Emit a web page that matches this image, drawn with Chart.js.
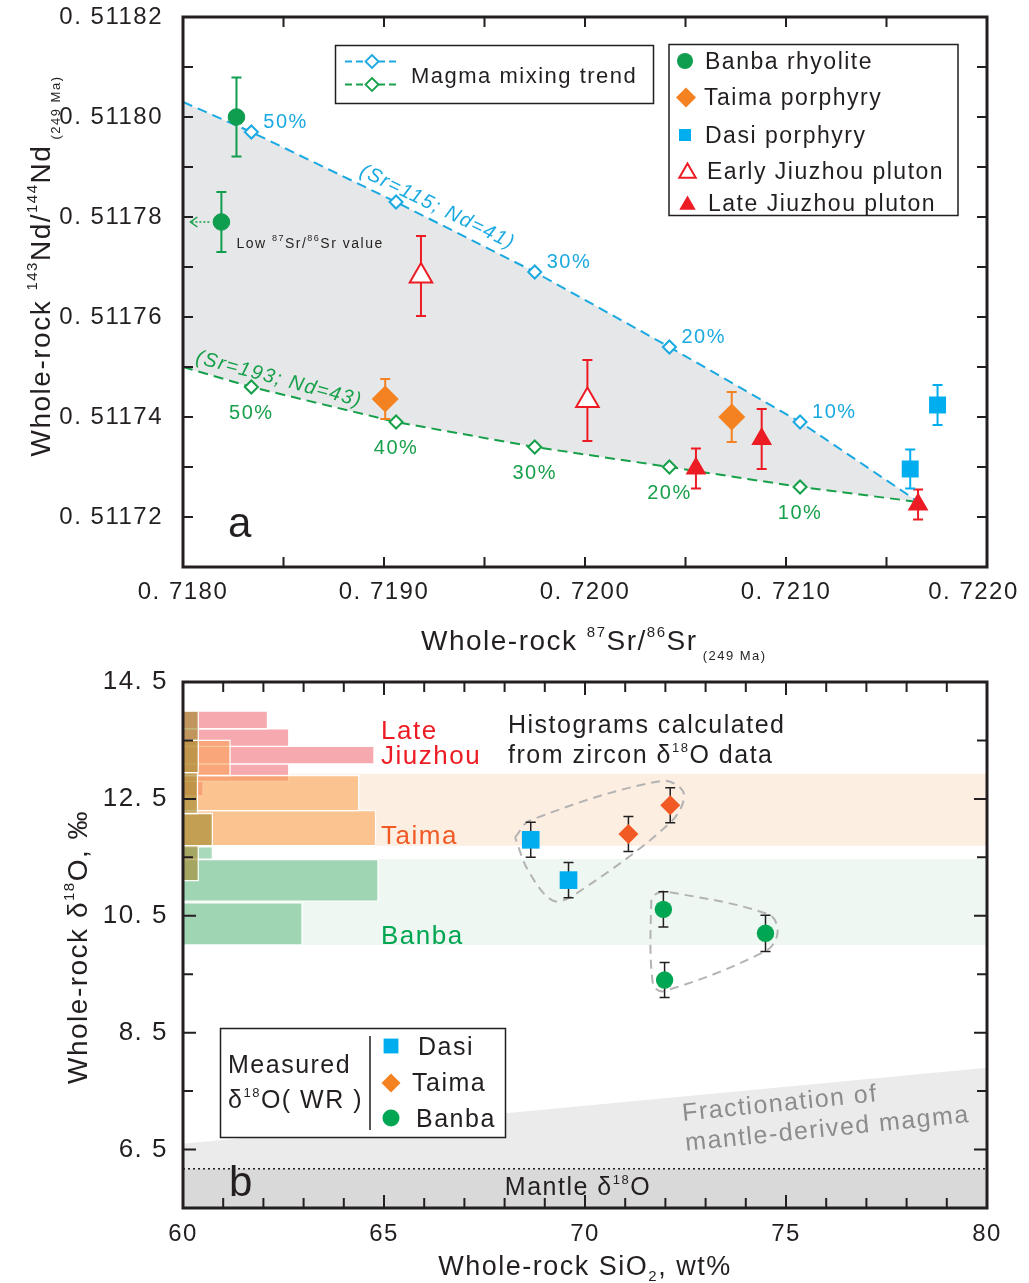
<!DOCTYPE html>
<html>
<head>
<meta charset="utf-8">
<script src="https://cdn.jsdelivr.net/npm/chart.js@4.4.1/dist/chart.umd.min.js"></script>
<style>
  html, body { margin: 0; padding: 0; background: #fff; }
  #wrap { position: relative; width: 1029px; height: 1283px; }
  #c1 { position: absolute; left: 0; top: 0; }
  #c2 { position: absolute; left: 0; top: 660px; }
</style>
</head>
<body>
<div id="wrap">
  <canvas id="c1" width="1029" height="675"></canvas>
  <canvas id="c2" width="1029" height="623"></canvas>
</div>
<script>
const FONT = '"Liberation Sans", Arial, Helvetica, sans-serif';
const INK = '#231f20';

// ---------- panel a : Sr-Nd ----------
// mixing curves, same Sr positions for both
const mixSr = [0.71800, 0.71834, 0.71906, 0.71975, 0.72042, 0.72107, 0.72166];
const mixNd115 = [0.511803, 0.511797, 0.511783, 0.511769, 0.511754, 0.511739, 0.511723];
const mixNd193 = [0.511750, 0.511746, 0.511739, 0.511734, 0.511730, 0.511726, 0.511723];
const mixPct115 = ['', '50%', '', '30%', '20%', '10%', ''];
const mixPct193 = ['', '50%', '40%', '30%', '20%', '10%', ''];

const banbaSr = [0.718266, 0.718191];
const banbaNd = [0.511800, 0.511779];
const banbaNdErr = [0.0000079, 0.0000060];

const taimaSr = [0.719006, 0.720730];
const taimaNd = [0.5117436, 0.5117400];
const taimaNdErr = [0.0000040, 0.0000050];

const dasiSr = [0.721618, 0.721754];
const dasiNd = [0.5117296, 0.5117424];
const dasiNdErr = [0.0000039, 0.0000040];

const earlySr = [0.719184, 0.720012];
const earlyNd = [0.5117682, 0.5117433];
const earlyNdErr = [0.0000080, 0.0000081];

const lateSr = [0.720552, 0.720879, 0.721657];
const lateNd = [0.5117297, 0.5117356, 0.5117225];
const lateNdErr = [0.0000040, 0.0000060, 0.0000030];

// ---------- panel b : SiO2 - d18O ----------
const dasiSi = [68.65, 69.59];
const dasiO = [11.80, 11.11];
const dasiOErr = [0.30, 0.30];
const taimaSi = [71.08, 72.12];
const taimaO = [11.90, 12.39];
const taimaOErr = [0.30, 0.30];
const banbaSi = [71.95, 74.49, 71.98];
const banbaO = [10.61, 10.20, 9.40];
const banbaOErr = [0.30, 0.31, 0.30];

// zircon d18O histograms: bin top, bin bottom, bar end (in SiO2 axis units)
const histLateTop = [14.0, 13.7, 13.4, 13.1, 12.8];
const histLateBot = [13.7, 13.4, 13.1, 12.8, 12.55];
const histLateLen = [62.10, 62.63, 64.75, 62.63, 60.50];
const histTaimaTop = [13.5, 12.9, 12.3];
const histTaimaBot = [12.9, 12.3, 11.7];
const histTaimaLen = [61.17, 64.37, 64.79];
const histBanbaTop = [11.68, 11.46, 10.72];
const histBanbaBot = [11.47, 10.75, 10.00];
const histBanbaLen = [60.73, 64.85, 62.96];
const histDasiTop = [14.0, 13.5, 12.95, 12.25, 11.7];
const histDasiBot = [13.5, 12.95, 12.25, 11.7, 11.1];
const histDasiLen = [60.38, 60.38, 60.36, 60.73, 60.38];

const taimaBandO = [11.70, 12.93];
const banbaBandO = [10.00, 11.47];
const mantleTopO = 6.17;
const fracSi = [60, 80];
const fracTopO = [6.60, 7.90];

const loopASi = [68.26, 68.63, 71.92, 72.46, 72.13, 69.76, 69.20, 68.59, 68.26];
const loopAO = [11.84, 12.13, 12.81, 12.59, 12.10, 10.87, 10.76, 11.27, 11.84];
const loopBSi = [71.75, 71.96, 74.58, 74.79, 74.50, 71.96, 71.69, 71.65, 71.75];
const loopBO = [10.87, 10.92, 10.52, 10.21, 9.90, 9.21, 9.33, 10.76, 10.87];

// ---------- helpers ----------
const pts = (xs, ys) => xs.map((x, i) => ({ x: x, y: ys[i] }));

function rich(ctx, parts, x, y, align, color) {
  // parts: [text, size, dy, italic]
  const fnt = p => (p[3] ? 'italic ' : '') + p[1] + 'px ' + FONT;
  let w = 0;
  const ws = parts.map(p => { ctx.font = fnt(p); const m = ctx.measureText(p[0]).width; w += m; return m; });
  let cx = align === 'center' ? x - w / 2 : (align === 'right' ? x - w : x);
  ctx.textAlign = 'left';
  ctx.textBaseline = 'alphabetic';
  ctx.fillStyle = color;
  parts.forEach((p, i) => { ctx.font = fnt(p); ctx.fillText(p[0], cx, y + (p[2] || 0)); cx += ws[i]; });
}

function marker(ctx, style, x, y, r, fill, stroke, lw) {
  ctx.beginPath();
  if (style === 'circle') ctx.arc(x, y, r, 0, Math.PI * 2);
  else if (style === 'rect') { const s = r * Math.SQRT1_2; ctx.rect(x - s, y - s, 2 * s, 2 * s); }
  else if (style === 'rectRot') { ctx.moveTo(x, y - r); ctx.lineTo(x + r, y); ctx.lineTo(x, y + r); ctx.lineTo(x - r, y); ctx.closePath(); }
  else if (style === 'triangle') {
    const c = Math.cos(Math.PI / 6) * r;
    ctx.moveTo(x, y - r); ctx.lineTo(x + c, y + r / 2); ctx.lineTo(x - c, y + r / 2); ctx.closePath();
  }
  if (fill) { ctx.fillStyle = fill; ctx.fill(); }
  if (stroke) { ctx.strokeStyle = stroke; ctx.lineWidth = lw; ctx.stroke(); }
}

// keep the plot box where the figure has it: no label overflow padding
function noPad(s) { s.paddingTop = 0; s.paddingBottom = 0; s.paddingLeft = 0; s.paddingRight = 0; }

const spacing = {
  id: 'spacing',
  beforeDraw(chart) { chart.ctx.letterSpacing = '1.5px'; }
};

const errorBars = {
  id: 'errorBars',
  beforeDatasetDraw(chart, args) {
    const ds = chart.data.datasets[args.index];
    if (!ds.errY) return;
    const ctx = chart.ctx, x = chart.scales.x, y = chart.scales.y;
    ctx.save();
    ctx.strokeStyle = ds.errColor;
    ctx.lineWidth = ds.errWidth;
    ds.data.forEach((p, i) => {
      const px = x.getPixelForValue(p.x);
      const y1 = y.getPixelForValue(p.y + ds.errY[i]);
      const y2 = y.getPixelForValue(p.y - ds.errY[i]);
      ctx.beginPath();
      ctx.moveTo(px, y1); ctx.lineTo(px, y2);
      ctx.moveTo(px - 5, y1); ctx.lineTo(px + 5, y1);
      ctx.moveTo(px - 5, y2); ctx.lineTo(px + 5, y2);
      ctx.stroke();
    });
    ctx.restore();
  }
};

function framePlugin(isMajorX, isMajorY, majorLen, minorLen) {
  return {
    id: 'frame',
    afterDraw(chart) {
      const ctx = chart.ctx, a = chart.chartArea, x = chart.scales.x, y = chart.scales.y;
      ctx.save();
      ctx.strokeStyle = INK;
      ctx.lineWidth = 2;
      ctx.beginPath();
      x.ticks.forEach(t => {
        const px = x.getPixelForValue(t.value), L = isMajorX(t.value) ? majorLen : minorLen;
        ctx.moveTo(px, a.bottom); ctx.lineTo(px, a.bottom - L);
        ctx.moveTo(px, a.top); ctx.lineTo(px, a.top + L);
      });
      y.ticks.forEach(t => {
        const py = y.getPixelForValue(t.value), L = isMajorY(t.value) ? majorLen : minorLen;
        ctx.moveTo(a.left, py); ctx.lineTo(a.left + L, py);
        ctx.moveTo(a.right, py); ctx.lineTo(a.right - L, py);
      });
      ctx.stroke();
      ctx.lineWidth = 3;
      ctx.strokeRect(a.left, a.top, a.right - a.left, a.bottom - a.top);
      ctx.restore();
    }
  };
}

const tickFont = { family: FONT, size: 24 };

// ---------- panel a ----------
const zone = pts(mixSr, mixNd115).concat(pts(mixSr, mixNd193).reverse());
const mixRadius = mixSr.map((v, i) => (i === 0 || i === mixSr.length - 1) ? 0 : 6.5);

const panelA = {
  id: 'panelA',
  afterDatasetsDraw(chart) {
    const ctx = chart.ctx, x = chart.scales.x, y = chart.scales.y, a = chart.chartArea;
    ctx.save();
    // percentage labels
    mixPct115.forEach((t, i) => {
      if (!t) return;
      rich(ctx, [[t, 20]], x.getPixelForValue(mixSr[i]) + 12, y.getPixelForValue(mixNd115[i]) - 4, 'left', '#1ba9e1');
    });
    mixPct193.forEach((t, i) => {
      if (!t) return;
      rich(ctx, [[t, 20]], x.getPixelForValue(mixSr[i]), y.getPixelForValue(mixNd193[i]) + 32, 'center', '#17a04a');
    });
    // curve annotations
    ctx.save();
    ctx.translate(x.getPixelForValue(mixSr[2]) + 42, y.getPixelForValue(mixNd115[2]) + 4);
    ctx.rotate(26 * Math.PI / 180);
    rich(ctx, [['(Sr=115; Nd=41)', 20, 7, true]], 0, 0, 'center', '#1ba9e1');
    ctx.restore();
    ctx.save();
    ctx.translate(x.getPixelForValue(mixSr[1]) + 28, y.getPixelForValue(mixNd193[1]) - 9);
    ctx.rotate(15 * Math.PI / 180);
    rich(ctx, [['(Sr=193; Nd=43)', 20, 7, true]], 0, 0, 'center', '#17a04a');
    ctx.restore();
    // low Sr note and arrow
    const bx = x.getPixelForValue(banbaSr[1]), by = y.getPixelForValue(banbaNd[1]);
    rich(ctx, [['Low ', 14], ['87', 9, -7], ['Sr/', 14], ['86', 9, -7], ['Sr value', 14]], bx + 15, by + 26, 'left', INK);
    ctx.strokeStyle = '#17a04a';
    ctx.lineWidth = 1.5;
    ctx.setLineDash([2, 2]);
    ctx.beginPath(); ctx.moveTo(bx - 12, by); ctx.lineTo(bx - 31, by); ctx.stroke();
    ctx.setLineDash([]);
    ctx.beginPath(); ctx.moveTo(bx - 24, by - 5); ctx.lineTo(bx - 31, by); ctx.lineTo(bx - 24, by + 5); ctx.stroke();
    // panel letter
    rich(ctx, [['a', 42]], a.left + 45, a.bottom - 30, 'left', INK);
    // legend: mixing trend
    ctx.strokeStyle = INK; ctx.lineWidth = 1.5;
    ctx.strokeRect(335.5, 45.5, 318, 58);
    [['#1ba9e1', 61.5], ['#17a04a', 84.5]].forEach(r => {
      ctx.strokeStyle = r[0]; ctx.lineWidth = 1.8; ctx.setLineDash([7, 4]);
      ctx.beginPath(); ctx.moveTo(345, r[1]); ctx.lineTo(398, r[1]); ctx.stroke();
      ctx.setLineDash([]);
      marker(ctx, 'rectRot', 372, r[1], 6.5, '#fff', r[0], 1.8);
    });
    rich(ctx, [['Magma mixing trend', 22]], 411, 83, 'left', INK);
    // legend: samples
    ctx.strokeStyle = INK; ctx.lineWidth = 1.5;
    ctx.strokeRect(669, 44.5, 289, 171);
    marker(ctx, 'circle', 685, 61, 8, '#0f9d4f');
    marker(ctx, 'rectRot', 686, 97.5, 10, '#f58220');
    marker(ctx, 'rect', 685, 135, 8.5, '#00aeef');
    marker(ctx, 'triangle', 687.5, 173, 9.5, '#fff', '#ed1c24', 2);
    marker(ctx, 'triangle', 687.5, 205, 9.5, '#ed1c24');
    rich(ctx, [['Banba rhyolite', 23]], 705, 69, 'left', INK);
    rich(ctx, [['Taima porphyry', 23]], 704, 105, 'left', INK);
    rich(ctx, [['Dasi porphyry', 23]], 705, 143, 'left', INK);
    rich(ctx, [['Early Jiuzhou pluton', 23]], 707, 179, 'left', INK);
    rich(ctx, [['Late Jiuzhou pluton', 23]], 708, 211, 'left', INK);
    ctx.restore();
  },
  afterDraw(chart) {
    const ctx = chart.ctx;
    ctx.save();
    rich(ctx, [['Whole-rock ', 28], ['87', 15, -13], ['Sr/', 28], ['86', 15, -13], ['Sr', 28], [' (249 Ma)', 13, 10]], 421, 650, 'left', INK);
    ctx.translate(50, 266);
    ctx.rotate(-Math.PI / 2);
    rich(ctx, [['Whole-rock ', 28], ['143', 15, -13], ['Nd/', 28], ['144', 15, -13], ['Nd', 28], [' (249 Ma)', 13, 10]], 0, 0, 'center', INK);
    ctx.restore();
  }
};

new Chart(document.getElementById('c1'), {
  type: 'scatter',
  data: {
    datasets: [
      { data: zone, showLine: true, fill: 'shape', backgroundColor: '#e6e7e8', borderWidth: 0, pointRadius: 0, order: 9 },
      { data: pts(mixSr, mixNd115), showLine: true, borderColor: '#1ba9e1', borderWidth: 2, borderDash: [10, 6],
        pointStyle: 'rectRot', pointRadius: mixRadius, pointBackgroundColor: '#fff', pointBorderColor: '#1ba9e1', pointBorderWidth: 2, order: 5 },
      { data: pts(mixSr, mixNd193), showLine: true, borderColor: '#17a04a', borderWidth: 2, borderDash: [10, 6],
        pointStyle: 'rectRot', pointRadius: mixRadius, pointBackgroundColor: '#fff', pointBorderColor: '#17a04a', pointBorderWidth: 2, order: 5 },
      { data: pts(banbaSr, banbaNd), errY: banbaNdErr, errColor: '#0f9d4f', errWidth: 2,
        pointStyle: 'circle', pointRadius: 8.3, backgroundColor: '#0f9d4f', borderColor: '#0f9d4f', order: 1 },
      { data: pts(taimaSr, taimaNd), errY: taimaNdErr, errColor: '#f58220', errWidth: 2,
        pointStyle: 'rectRot', pointRadius: 13.5, backgroundColor: '#f58220', borderColor: '#f58220', borderWidth: 0, order: 1 },
      { data: pts(dasiSr, dasiNd), errY: dasiNdErr, errColor: '#00aeef', errWidth: 2,
        pointStyle: 'rect', pointRadius: 12, backgroundColor: '#00aeef', borderColor: '#00aeef', borderWidth: 0, order: 1 },
      { data: pts(earlySr, earlyNd), errY: earlyNdErr, errColor: '#ed1c24', errWidth: 2,
        pointStyle: 'triangle', pointRadius: 13, backgroundColor: '#fff', borderColor: '#ed1c24', borderWidth: 2, order: 1 },
      { data: pts(lateSr, lateNd), errY: lateNdErr, errColor: '#ed1c24', errWidth: 2,
        pointStyle: 'triangle', pointRadius: 12, backgroundColor: '#ed1c24', borderColor: '#ed1c24', borderWidth: 0, order: 1 }
    ]
  },
  options: {
    responsive: false,
    animation: false,
    events: [],
    layout: { padding: { top: 17, right: 42, left: 0, bottom: 0 } },
    plugins: { legend: { display: false }, tooltip: { enabled: false } },
    scales: {
      x: {
        type: 'linear', min: 0.7180, max: 0.7220,
        grid: { display: false, drawTicks: false }, border: { display: false },
        ticks: {
          stepSize: 0.0005, autoSkip: false, maxRotation: 0, padding: 11, color: INK, font: tickFont,
          // last label sits inside the canvas, as in the figure
          callback: v => {
            const n = Math.round(v * 1e4);
            if (n % 10 !== 0) return '';
            return n === 7220 ? '0. ' + n + '\u2002\u2002' : '0. ' + n;
          }
        },
        afterFit: s => { noPad(s); s.height = 108; }
      },
      y: {
        type: 'linear', min: 0.51171, max: 0.51182,
        grid: { display: false, drawTicks: false }, border: { display: false },
        ticks: {
          stepSize: 0.00001, autoSkip: false, padding: 20, color: INK, font: tickFont,
          callback: v => { const n = Math.round(v * 1e5); return n % 2 === 0 ? '0. ' + n : ''; }
        },
        afterFit: s => { noPad(s); s.width = 183; }
      }
    }
  },
  plugins: [spacing, errorBars, panelA, framePlugin(() => false, () => false, 10, 10)]
});

// ---------- panel b ----------
function histSets(tops, bots, lens, color, order) {
  return tops.map((t, i) => ({
    data: pts([60, lens[i], lens[i], 60, 60], [t, t, bots[i], bots[i], t]),
    showLine: true, fill: 'shape', backgroundColor: color, borderColor: 'rgba(255,255,255,0.95)', borderWidth: 1.3,
    pointRadius: 0, order: order
  }));
}
function bandSet(lo, hi, color) {
  return { data: pts([60, 80, 80, 60], [lo, lo, hi, hi]), showLine: true, fill: 'shape', backgroundColor: color,
    borderWidth: 0, pointRadius: 0, order: 20 };
}

const panelB = {
  id: 'panelB',
  afterDatasetsDraw(chart) {
    const ctx = chart.ctx, a = chart.chartArea;
    ctx.save();
    rich(ctx, [['Late', 26]], 381, 79, 'left', '#ed1c24');
    rich(ctx, [['Jiuzhou', 26]], 381, 104, 'left', '#ed1c24');
    rich(ctx, [['Taima', 26]], 381, 184, 'left', '#f15a24');
    rich(ctx, [['Banba', 26]], 381, 284, 'left', '#00a651');
    rich(ctx, [['Histograms calculated', 25]], 508, 73, 'left', INK);
    rich(ctx, [['from zircon δ', 25], ['18', 13, -11], ['O data', 25]], 508, 103, 'left', INK);
    rich(ctx, [['Mantle δ', 25], ['18', 13, -11], ['O', 25]], 578, 535, 'center', INK);
    rich(ctx, [['b', 42]], a.left + 46, 536, 'left', INK);
    ctx.save();
    ctx.translate(683, 461);
    ctx.rotate(-5.8 * Math.PI / 180);
    rich(ctx, [['Fractionation of', 25]], 0, 0, 'left', '#8c8c8c');
    rich(ctx, [['mantle-derived magma', 25]], 0, 30, 'left', '#8c8c8c');
    ctx.restore();
    // legend
    ctx.fillStyle = '#fff';
    ctx.fillRect(220, 368, 285, 109);
    ctx.strokeStyle = INK; ctx.lineWidth = 1.5;
    ctx.strokeRect(220.5, 368.5, 285, 109);
    ctx.beginPath(); ctx.moveTo(370, 376); ctx.lineTo(370, 470); ctx.stroke();
    rich(ctx, [['Measured', 25]], 228, 413, 'left', INK);
    rich(ctx, [['δ', 25], ['18', 13, -11], ['O( WR )', 25]], 228, 448, 'left', INK);
    marker(ctx, 'rect', 391, 386, 10.5, '#00aeef');
    marker(ctx, 'rectRot', 391, 423, 9.5, '#f58220');
    marker(ctx, 'circle', 391, 458, 8.5, '#00a651');
    rich(ctx, [['Dasi', 25]], 418, 395, 'left', INK);
    rich(ctx, [['Taima', 25]], 412, 431, 'left', INK);
    rich(ctx, [['Banba', 25]], 416, 467, 'left', INK);
    ctx.restore();
  },
  afterDraw(chart) {
    const ctx = chart.ctx;
    ctx.save();
    rich(ctx, [['Whole-rock SiO', 27], ['2', 15, 6], [', wt%', 27]], 585, 615, 'center', INK);
    ctx.translate(87, 287);
    ctx.rotate(-Math.PI / 2);
    rich(ctx, [['Whole-rock δ', 28], ['18', 15, -13], ['O, ‰', 28]], 0, 0, 'center', INK);
    ctx.restore();
  }
};

new Chart(document.getElementById('c2'), {
  type: 'scatter',
  data: {
    datasets: [
      bandSet(taimaBandO[0], taimaBandO[1], '#fdeee2'),
      bandSet(banbaBandO[0], banbaBandO[1], '#eff7f2'),
      { data: pts([fracSi[0], fracSi[0], fracSi[1], fracSi[1]], [mantleTopO, fracTopO[0], fracTopO[1], mantleTopO]),
        showLine: true, fill: 'shape', backgroundColor: '#ebebeb', borderWidth: 0, pointRadius: 0, order: 20 },
      { data: pts([60, 60, 80, 80], [5.5, mantleTopO, mantleTopO, 5.5]),
        showLine: true, fill: 'shape', backgroundColor: '#d9d9d9', borderWidth: 0, pointRadius: 0, order: 20 },
      { data: pts([60, 80], [mantleTopO, mantleTopO]), showLine: true, borderColor: INK, borderWidth: 1.5,
        borderDash: [2, 3], pointRadius: 0, order: 19 },
      ...histSets(histLateTop, histLateBot, histLateLen, 'rgba(239,100,110,0.55)', 14),
      ...histSets(histTaimaTop, histTaimaBot, histTaimaLen, 'rgba(249,163,85,0.58)', 13),
      ...histSets(histBanbaTop, histBanbaBot, histBanbaLen, 'rgba(95,185,130,0.55)', 13),
      ...histSets(histDasiTop, histDasiBot, histDasiLen, 'rgba(165,140,50,0.65)', 12),
      { data: pts(loopASi, loopAO), showLine: true, tension: 0.35, borderColor: '#b3b3b3', borderWidth: 2,
        borderDash: [9, 6], pointRadius: 0, order: 5 },
      { data: pts(loopBSi, loopBO), showLine: true, tension: 0.35, borderColor: '#b3b3b3', borderWidth: 2,
        borderDash: [9, 6], pointRadius: 0, order: 5 },
      { data: pts(dasiSi, dasiO), errY: dasiOErr, errColor: INK, errWidth: 1.5,
        pointStyle: 'rect', pointRadius: 12.5, backgroundColor: '#00aeef', borderColor: '#00aeef', borderWidth: 0, order: 1 },
      { data: pts(taimaSi, taimaO), errY: taimaOErr, errColor: INK, errWidth: 1.5,
        pointStyle: 'rectRot', pointRadius: 10, backgroundColor: '#f15a24', borderColor: '#f15a24', borderWidth: 0, order: 1 },
      { data: pts(banbaSi, banbaO), errY: banbaOErr, errColor: INK, errWidth: 1.5,
        pointStyle: 'circle', pointRadius: 8.7, backgroundColor: '#00a651', borderColor: '#00a651', borderWidth: 0, order: 1 }
    ]
  },
  options: {
    responsive: false,
    animation: false,
    events: [],
    layout: { padding: { top: 22, right: 42, left: 0, bottom: 0 } },
    plugins: { legend: { display: false }, tooltip: { enabled: false } },
    scales: {
      x: {
        type: 'linear', min: 60, max: 80,
        grid: { display: false, drawTicks: false }, border: { display: false },
        ticks: {
          stepSize: 1, autoSkip: false, maxRotation: 0, padding: 12, color: INK, font: tickFont,
          callback: v => v % 5 === 0 ? String(v) : ''
        },
        afterFit: s => { noPad(s); s.height = 75; }
      },
      y: {
        type: 'linear', min: 5.5, max: 14.5,
        grid: { display: false, drawTicks: false }, border: { display: false },
        ticks: {
          stepSize: 1, autoSkip: false, padding: 15, color: INK, font: { family: FONT, size: 26 },
          callback: v => Math.round(v - 0.5) % 2 === 0 ? v.toFixed(1).replace('.', '. ') : ''
        },
        afterFit: s => { noPad(s); s.width = 183; }
      }
    }
  },
  plugins: [spacing, errorBars, panelB,
    framePlugin(v => Math.round(v) % 5 === 0, v => Math.round(v - 0.5) % 2 === 0, 13, 10)]
});
</script>
</body>
</html>
